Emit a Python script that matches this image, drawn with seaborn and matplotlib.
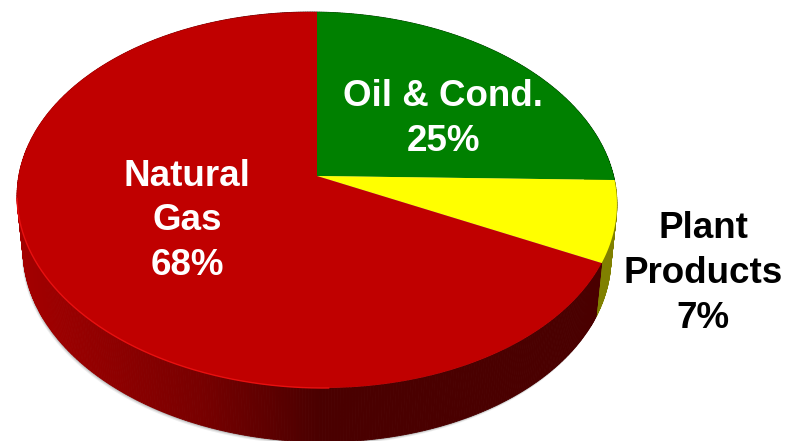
import numpy as np
import matplotlib
matplotlib.use('Agg')
import matplotlib.pyplot as plt
from matplotlib.patches import Polygon
import seaborn as sns

# Values
labels = ['Oil & Cond.\n25%', 'Plant\nProducts\n7%', 'Natural\nGas\n68%']
shares = [25, 7, 68]
colors = ['#008000', '#FFFF00', '#C00000']
label_colors = ['white', 'black', 'white']
label_pos = [(443, 119), (703, 273.5), (187, 221)]

# Pie geometry in pixels
cx, cy = 317, 176
depth = 54
W, H = 787, 441

sns.set_theme(style='white')
plt.rcParams['font.family'] = ['Liberation Sans', 'DejaVu Sans']


def project(theta, r=1.0):
    # tilt the flat pie (perspective: near edge is bigger than far edge)
    x = r * np.cos(np.radians(theta))
    y = r * np.sin(np.radians(theta))
    w = 1 + 0.1277 * y
    return cx + 297.5 * x / w, cy - 184.9 * y / w + 4 * x / w


def lower(px, py):
    # bottom rim of the disc
    return cx + 0.98 * (px - cx), py + depth


def side_color(x, base):
    if base == '#FFFF00':
        return '#808000'
    if base == '#008000':
        return '#004000'
    shade = np.interp(x, [20, 100, 200, 320, 800], [0.64, 0.57, 0.47, 0.29, 0.29])
    return (shade, 0, 0)


fig, ax = plt.subplots(figsize=(7.87, 4.41), dpi=100)
fig.subplots_adjust(left=0, right=1, top=1, bottom=0)

wedges, _ = ax.pie(shares, colors=colors, startangle=90, counterclock=False)
spans = [(w.theta1, w.theta2) for w in wedges]
for w in wedges:
    w.remove()

# Soft shadow under the disc
rim = np.linspace(0, 360, 721)
rx, ry = project(rim)
bx, by = lower(rx, ry)
for off, alpha in [(3, 0.1), (2, 0.15), (1, 0.25)]:
    ax.add_patch(Polygon(np.column_stack([bx - 0.5 * off, by + off]), fc='#555555', ec='none',
                         alpha=alpha, zorder=1))

# Side of the disc, strip by strip
for (t1, t2), base in zip(spans, colors):
    ts = np.arange(t1, t2 + 0.5, 0.5)
    ts = ts[ts <= t2]
    ts = np.append(ts, t2)
    for a, b in zip(ts[:-1], ts[1:]):
        if b == a:
            continue
        x1, y1 = project(a)
        x2, y2 = project(b)
        x3, y3 = lower(x2, y2)
        x4, y4 = lower(x1, y1)
        c = side_color((x1 + x2) / 2, base)
        ax.add_patch(Polygon([(x1, y1), (x2, y2), (x3, y3), (x4, y4)], fc=c, ec=c, lw=0.6, zorder=2))

# Top face
for (t1, t2), base in zip(spans, colors):
    ts = np.linspace(t1, t2, 200)
    px, py = project(ts)
    pts = np.column_stack([np.append(px, cx), np.append(py, cy)])
    ax.add_patch(Polygon(pts, fc=base, ec='none', zorder=3))

# Bright edge along the lower left rim
hl = np.linspace(188, 272, 200)
hx, hy = project(hl)
ax.plot(hx, hy, color='#E81010', lw=1.0, zorder=4, solid_capstyle='round')

for txt, (lx, ly), col in zip(labels, label_pos, label_colors):
    ax.text(lx, ly, txt, color=col, ha='center', va='center', fontsize=26.5,
            fontweight='bold', linespacing=1.36, zorder=5)

ax.set_aspect('auto')
ax.set_xlim(0, W)
ax.set_ylim(H, 0)
ax.axis('off')

plt.savefig('out.png', dpi=100)
